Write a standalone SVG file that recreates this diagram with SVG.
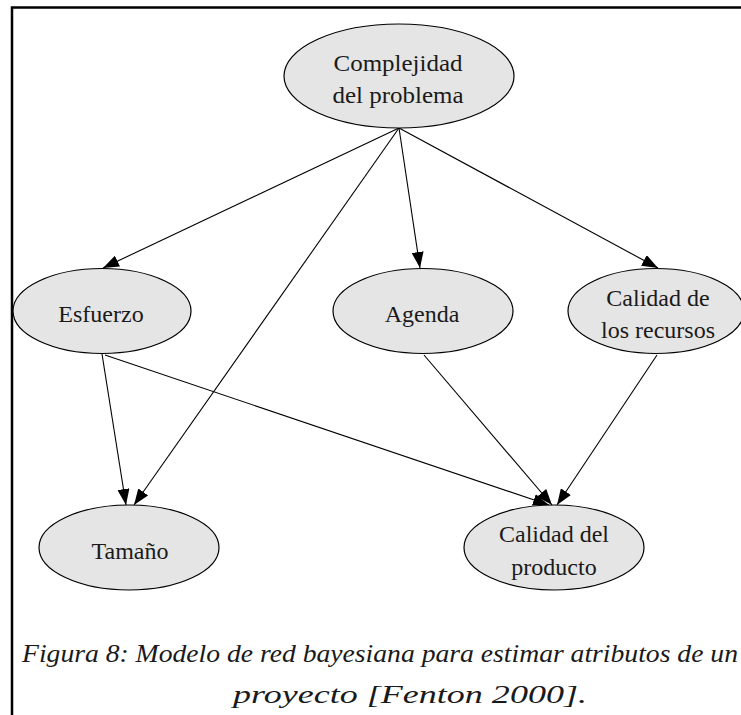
<svg xmlns="http://www.w3.org/2000/svg" width="741" height="715" viewBox="0 0 741 715">
<style>
.node ellipse{fill:#e5e5e5;stroke:#000;stroke-width:1.2}
.node text{font-family:"Liberation Serif","Times New Roman",serif;font-size:24px;fill:#1a1a1a;text-anchor:middle}
.edges line{stroke:#000;stroke-width:1.1;marker-end:url(#arr)}
.caption{font-family:"Liberation Serif","Times New Roman",serif;font-style:italic;font-size:26px;fill:#1a1a1a}
</style>
<defs>
<marker id="arr" markerUnits="userSpaceOnUse" markerWidth="16" markerHeight="12" viewBox="0 0 16 12" refX="16" refY="6" orient="auto">
<path d="M0,0 L16,6 L0,12 Z" fill="#000"/>
</marker>
</defs>
<rect width="741" height="715" fill="#fff"/>
<path d="M12,715 V7.5 H741" fill="none" stroke="#000" stroke-width="2.5"/>
<g class="edges" id="edges">
<line x1="399" y1="128" x2="103" y2="268"/>
<line x1="399" y1="128" x2="134" y2="505"/>
<line x1="399" y1="128" x2="420" y2="268"/>
<line x1="399" y1="128" x2="658" y2="268"/>
<line x1="102" y1="354" x2="126" y2="505"/>
<line x1="105" y1="355" x2="549" y2="505"/>
<line x1="424" y1="355" x2="552" y2="505"/>
<line x1="657" y1="355" x2="557" y2="505"/>
</g>
<g class="node" id="complejidad">
<ellipse cx="399" cy="76" rx="115" ry="52"/>
<text x="398" y="71" textLength="129" lengthAdjust="spacingAndGlyphs">Complejidad</text>
<text x="398" y="103" textLength="131" lengthAdjust="spacingAndGlyphs">del problema</text>
</g>
<g class="node" id="esfuerzo">
<ellipse cx="102" cy="311" rx="89" ry="42.5"/>
<text x="101" y="322">Esfuerzo</text>
</g>
<g class="node" id="agenda">
<ellipse cx="423" cy="311" rx="90" ry="42.5"/>
<text x="422" y="322">Agenda</text>
</g>
<g class="node" id="recursos">
<ellipse cx="656" cy="311" rx="88" ry="42.5"/>
<text x="658" y="306">Calidad de</text>
<text x="658" y="338">los recursos</text>
</g>
<g class="node" id="tamano">
<ellipse cx="129" cy="547.5" rx="90" ry="42.5"/>
<text x="130" y="559">Tamaño</text>
</g>
<g class="node" id="producto">
<ellipse cx="554" cy="547.5" rx="90" ry="42.5"/>
<text x="554" y="542">Calidad del</text>
<text x="554" y="575">producto</text>
</g>
<text class="caption" x="22" y="662" textLength="716" lengthAdjust="spacingAndGlyphs">Figura 8: Modelo de red bayesiana para estimar atributos de un</text>
<text class="caption" x="233" y="703" textLength="354" lengthAdjust="spacingAndGlyphs">proyecto [Fenton 2000].</text>
</svg>
